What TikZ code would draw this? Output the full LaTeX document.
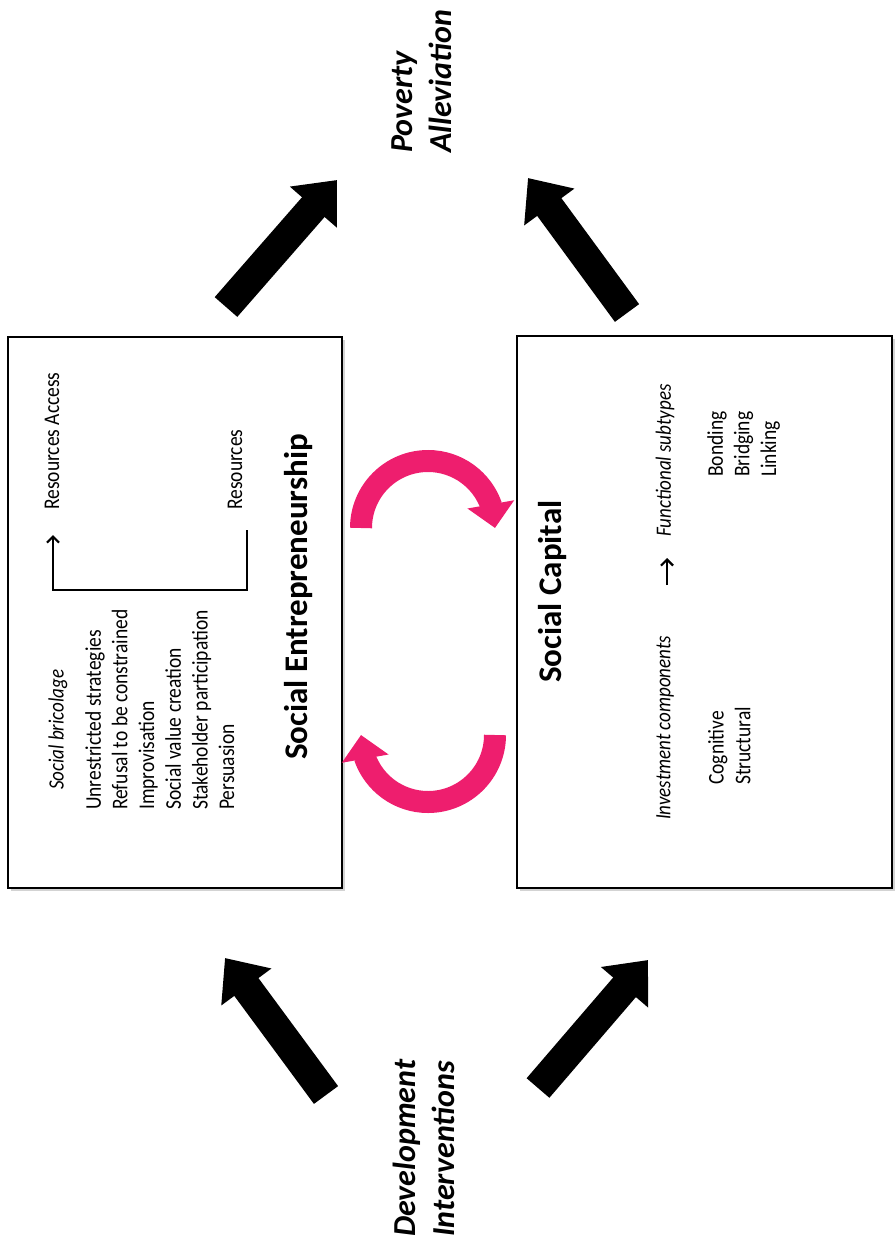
\documentclass[tikz,border=0pt]{standalone}
\usepackage{fontspec}
\setmainfont{Carlito}
\usetikzlibrary{arrows.meta, bending, shadows}

\definecolor{cyclepink}{RGB}{238,30,110}

\tikzset{
	box/.style = {draw, line width = 2.2pt, fill = white,
		drop shadow = {shadow xshift = 3pt, shadow yshift = -3pt, opacity = .35}},
	sidetext/.style = {rotate = 90, yscale = 1.15, inner sep = 0pt, align = left,
		font = \fontsize{19.5}{23.2}\selectfont},
	sideitalic/.style = {sidetext, font = \fontsize{19}{23.2}\selectfont\itshape},
	boxtitle/.style = {rotate = 90, inner sep = 0pt, font = \fontsize{33}{40}\selectfont\bfseries},
	endtext/.style = {rotate = 90, inner sep = 0pt, align = left,
		font = \fontsize{32}{39}\selectfont\bfseries\itshape},
	bigarrow/.style = {line width = 30pt, -{Triangle[length = 36pt, width = 60pt]}},
	cyclearrow/.style = {cyclepink, line width = 22pt, -{Triangle[length = 24pt, width = 46pt]}},
	smallarrow/.style = {line width = 2.2pt, -{Straight Barb[length = 6pt, width = 12pt]}}
}

\begin{document}
\begin{tikzpicture}[x = 1pt, y = -1pt]

	\useasboundingbox (0, 0) rectangle (896, 1244);
	
	% The two boxes
	
	\node [box, minimum width = 334pt, minimum height = 551pt] (se) at (175, 612.5) {};
	\node [box, minimum width = 375pt, minimum height = 552pt] (sc) at (704.5, 612) {};
	
	% Social entrepreneurship
	
	\node [sideitalic, anchor = west] (brico) at (58, 790) {Social bricolage};
	\node [sidetext, anchor = north west] (tactics) at (85, 810) {Unrestricted strategies\\Refusal to be constrained\\Improvisation\\Social value creation\\Stakeholder participation\\Persuasion};
	\node [sidetext, anchor = west] (acc) at (52, 510) {Resources Access};
	\node [sidetext, anchor = west] (res) at (235, 510) {Resources};
	\node [boxtitle, anchor = west] (setitle) at (299, 760) {Social Entrepreneurship};
	
	\coordinate (resfoot) at (247, 530);
	\coordinate (accfoot) at (53, 535);
	\draw [smallarrow] (resfoot) -- ++(0, 60) -| (accfoot);
	
	% Social capital
	
	\node [boxtitle, anchor = west] (sctitle) at (553, 683) {Social Capital};
	\node [sideitalic, anchor = west] (inv) at (665, 820) {Investment components};
	\node [sideitalic, anchor = west] (fun) at (665, 537) {Functional subtypes};
	\node [sidetext, anchor = north west] (comps) at (708, 785) {Cognitive\\Structural};
	\node [sidetext, anchor = north west] (subs) at (707, 477) {Bonding\\Bridging\\Linking};
	
	\coordinate (invhead) at (667, 585);
	\coordinate (funtail) at (667, 558);
	\draw [smallarrow] (invhead) -- (funtail);
	
	% Ends of the chain
	
	\node [endtext, anchor = north west] (pov) at (392, 153) {Poverty\\Alleviation};
	\node [endtext, anchor = north west] (dev) at (393, 1237) {Development\\Interventions};
	
	% Block arrows
	
	\coordinate (dvse) at (326, 1095);
	\coordinate (sein) at (225, 958);
	\coordinate (dvsc) at (538, 1088);
	\coordinate (scin) at (648, 960);
	\coordinate (seout) at (226, 307);
	\coordinate (povl) at (337, 180);
	\coordinate (scout) at (627, 313);
	\coordinate (povr) at (528, 178);
	
	\begin{scope}[bigarrow]
	
		\draw (dvse) -- (sein);
		\draw (dvsc) -- (scin);
		\draw (seout) -- (povl);
		\draw (scout) -- (povr);
		
	\end{scope}
	
	% Feedback between the boxes
	
	\draw [cyclearrow] (361, 528) arc [start angle = 180, end angle = 360, radius = 67];
	\draw [cyclearrow] (495, 735) arc [start angle = 0, end angle = 180, radius = 67];

\end{tikzpicture}
\end{document}
